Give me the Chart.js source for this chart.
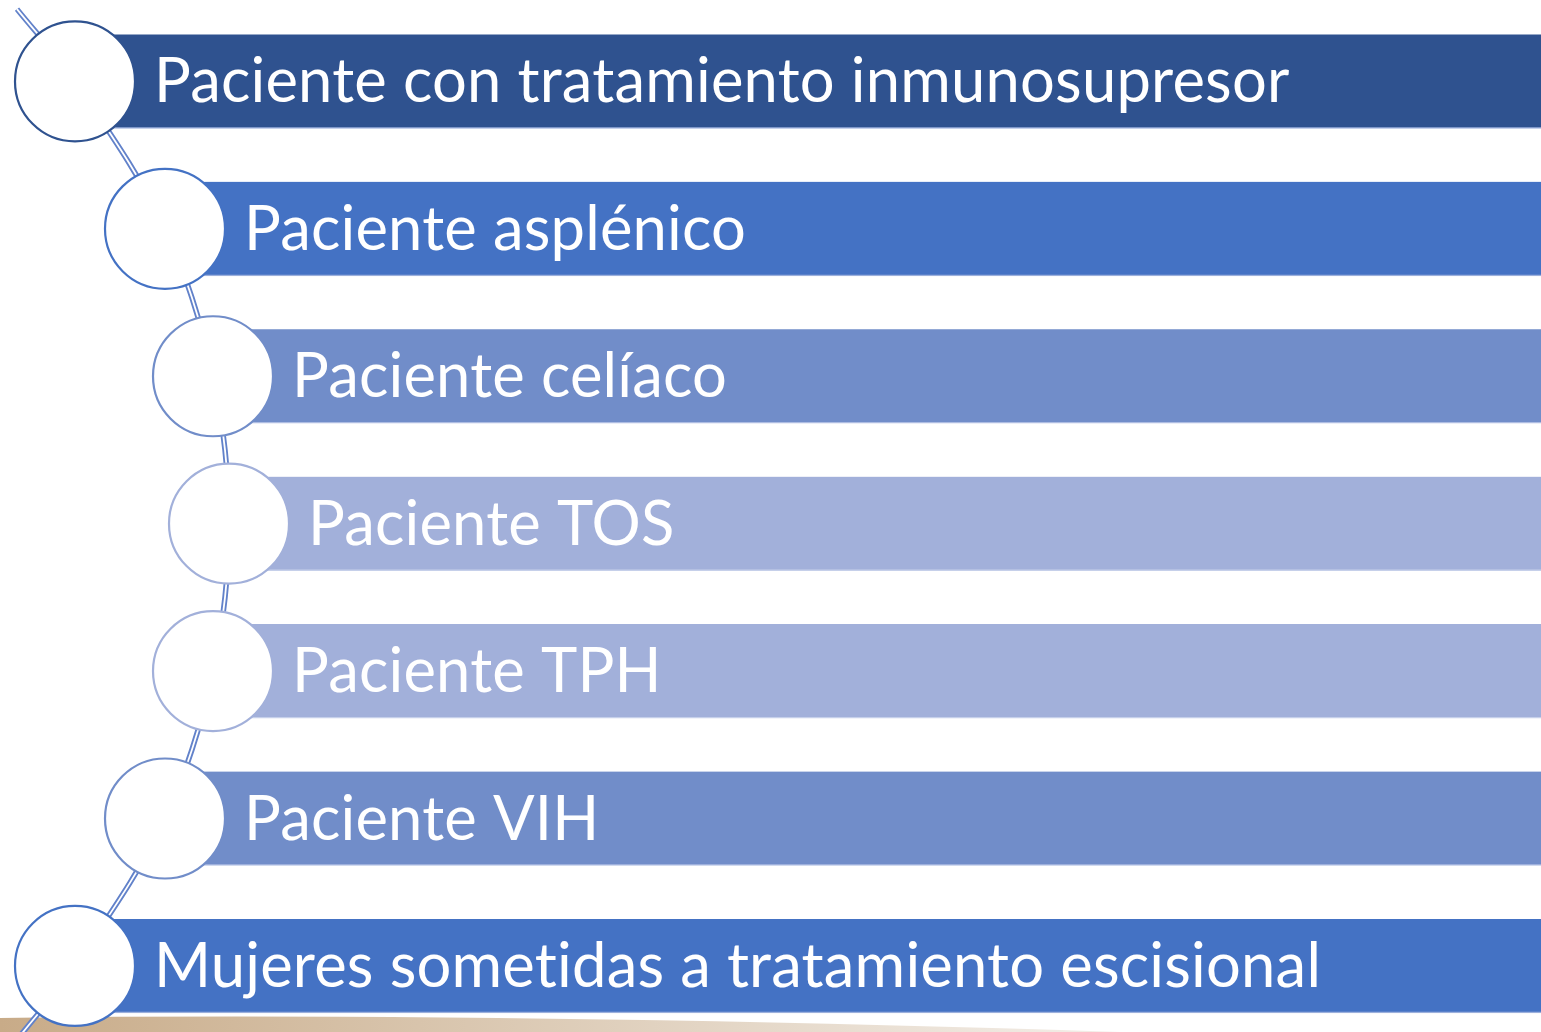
<!DOCTYPE html>
<html>
<head>
<meta charset="utf-8">
<script src="https://cdn.jsdelivr.net/npm/chart.js@4/dist/chart.umd.min.js"></script>
<style>
  html, body { margin: 0; padding: 0; background: #ffffff; }
  #wrap { position: relative; width: 1541px; height: 1032px; }
</style>
</head>
<body>
<div id="wrap"><canvas id="chart"></canvas></div>
<script>
// rows of the list, top to bottom
const labels = [
  "Paciente con tratamiento inmunosupresor",
  "Paciente asplénico",
  "Paciente celíaco",
  "Paciente TOS",
  "Paciente TPH",
  "Paciente VIH",
  "Mujeres sometidas a tratamiento escisional",
];
const rows = [0, 1, 2, 3, 4, 5, 6];
// circle centres along the arc (x scale units)
const circleX = [75, 165, 213, 229, 213, 165, 75];
const barEnd = [1541, 1541, 1541, 1541, 1541, 1541, 1541];
// connector arc, runs through the circles and off the page
const arcX = [17, 75, 165, 213, 229, 213, 165, 75, 17];
const arcY = [-0.49, 0, 1, 2, 3, 4, 5, 6, 6.5];

const fills = ["#2F528F", "#4472C4", "#718DC9", "#A2B0DA", "#A2B0DA", "#718DC9", "#4472C4"];
const edges = ["#9CB0DC", "#9CB0DC", "#AEBDE2", "#C6D0EA", "#C6D0EA", "#AEBDE2", "#9CB0DC"];
const rings = ["#2F528F", "#4472C4", "#718DC9", "#A2B0DA", "#A2B0DA", "#718DC9", "#4472C4"];

// white label on each bar
const labelPlugin = {
  id: "barLabels",
  afterDatasetsDraw(chart) {
    const ctx = chart.ctx;
    const meta = chart.getDatasetMeta(2);
    ctx.save();
    ctx.fillStyle = "#ffffff";
    ctx.font = "61.5px Lato";
    ctx.letterSpacing = "0.2px"; // keeps "ti" from turning into a ligature
    ctx.textBaseline = "alphabetic";
    meta.data.forEach((bar, i) => {
      const x = chart.scales.x.getPixelForValue(circleX[i]) + 79;
      ctx.fillText(labels[i], x, bar.y + 21);
    });
    ctx.restore();
  },
};

// tan slide decoration at the very bottom
const floorPlugin = {
  id: "floor",
  beforeDatasetsDraw(chart) {
    const ctx = chart.ctx;
    const g = ctx.createLinearGradient(0, 0, 1120, 0);
    g.addColorStop(0, "#C8AB88");
    g.addColorStop(1, "#F3EEE8");
    ctx.save();
    ctx.fillStyle = g;
    ctx.beginPath();
    ctx.moveTo(0, 1032);
    ctx.lineTo(0, 1018);
    ctx.quadraticCurveTo(500, 1012, 1120, 1032);
    ctx.closePath();
    ctx.fill();
    ctx.restore();
  },
};

const arcPoints = arcX.map((x, i) => ({ x: x, y: arcY[i] }));

new Chart(document.getElementById("chart"), {
  type: "bar",
  data: {
    datasets: [
      {
        type: "line",
        data: arcPoints,
        borderColor: "#6282CA",
        borderWidth: 5.5,
        tension: 0.35,
        pointRadius: 0,
        clip: false,
        order: 5,
      },
      {
        type: "line",
        data: arcPoints,
        borderColor: "#ffffff",
        borderWidth: 1.8,
        tension: 0.35,
        pointRadius: 0,
        clip: false,
        order: 4,
      },
      {
        type: "bar",
        data: rows.map((r, i) => ({ x: [circleX[i], barEnd[i]], y: r })),
        backgroundColor: fills,
        borderColor: edges,
        borderWidth: { top: 0, right: 0, bottom: 1.5, left: 0 },
        borderSkipped: false,
        barThickness: 94,
        order: 3,
      },
      {
        type: "line",
        showLine: false,
        data: rows.map((r, i) => ({ x: circleX[i], y: r })),
        pointRadius: 60,
        pointHoverRadius: 60,
        pointBackgroundColor: "#ffffff",
        pointBorderColor: rings,
        pointBorderWidth: 2.2,
        clip: false,
        order: 1,
      },
    ],
  },
  options: {
    indexAxis: "y",
    responsive: true,
    maintainAspectRatio: false,
    animation: false,
    layout: { padding: 0, autoPadding: false },
    plugins: {
      legend: { display: false },
      tooltip: { enabled: false },
    },
    scales: {
      x: { type: "linear", min: 0, max: 1541, display: false },
      y: { type: "linear", min: -0.552, max: 6.448, reverse: true, offset: false, display: false },
    },
  },
  plugins: [floorPlugin, labelPlugin],
});
</script>
</body>
</html>
